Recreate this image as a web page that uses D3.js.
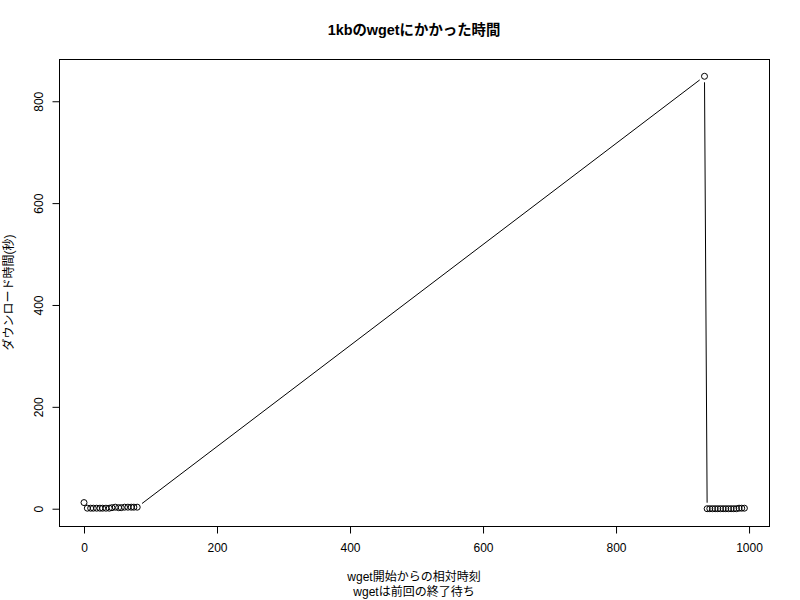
<!DOCTYPE html>
<html><head><meta charset="utf-8">
<script src="https://cdn.jsdelivr.net/npm/d3@7"></script>
<style>body{margin:0;background:#fff}text{font-family:"Liberation Sans","Noto Sans CJK JP",sans-serif}</style>
</head><body><svg id="c" width="800" height="600"></svg>
<script>
const startTimes = [0, 5, 10, 14, 19, 24, 28, 33, 38, 42, 47, 52, 56, 61, 66, 71, 75, 80,
  933,
  937, 941, 945, 949, 953, 957, 961, 965, 969, 973, 977, 981, 985, 989, 993];
const durations = [12, 1, 1, 1, 1, 1, 1, 1, 1, 2, 3, 2, 2, 3, 3, 3, 3, 3,
  849,
  0, 0, 0, 0, 0, 0, 0, 0, 0, 0, 0, 0, 1, 1, 1];
const xTicks = [0, 200, 400, 600, 800, 1000];
const yTicks = [0, 200, 400, 600, 800];
const title = "1kbのwgetにかかった時間";
const xLabel1 = "wget開始からの相対時刻";
const xLabel2 = "wgetは前回の終了待ち";
const yLabel = "ダウンロード時間(秒)";

const L = 59, R = 769, T = 59, B = 526;
const svg = d3.select("#c");
const x = d3.scaleLinear().domain([-37.6, 1030]).range([L, R]);
const yMin = 0, yMax = 849, yr = yMax - yMin;
const y = d3.scaleLinear().domain([yMin - 0.04 * yr, yMax + 0.04 * yr]).range([B, T]);

const data = startTimes.map((t, i) => ({x: t, y: durations[i]}));

// box
svg.append("rect").attr("x", L + 0.5).attr("y", T + 0.5).attr("width", R - L).attr("height", B - T)
  .attr("fill", "none").attr("stroke", "#000");

// x axis
const xa = svg.append("g").attr("transform", `translate(0.5,${B + 0.5})`);
xa.append("line").attr("x1", x(0)).attr("x2", x(1000)).attr("stroke", "#000");
xa.selectAll("line.t").data(xTicks).join("line").attr("class", "t")
  .attr("x1", d => x(d)).attr("x2", d => x(d)).attr("y1", 0).attr("y2", 7).attr("stroke", "#000");
xa.selectAll("text").data(xTicks).join("text").attr("x", d => x(d)).attr("y", 25)
  .attr("text-anchor", "middle").attr("font-size", 12).text(d => d);

// y axis
const ya = svg.append("g").attr("transform", `translate(${L + 0.5},0.5)`);
ya.append("line").attr("y1", y(0)).attr("y2", y(800)).attr("stroke", "#000");
ya.selectAll("line.t").data(yTicks).join("line").attr("class", "t")
  .attr("y1", d => y(d)).attr("y2", d => y(d)).attr("x1", 0).attr("x2", -7).attr("stroke", "#000");
ya.selectAll("text").data(yTicks).join("text")
  .attr("transform", d => `translate(-17,${y(d)}) rotate(-90)`)
  .attr("text-anchor", "middle").attr("font-size", 12).text(d => d);

// lines with gaps (type "b")
const gap = 6;
const lg = svg.append("g").attr("stroke", "#000").attr("stroke-width", 1);
for (let i = 0; i < data.length - 1; i++) {
  const x1 = x(data[i].x), y1 = y(data[i].y), x2 = x(data[i + 1].x), y2 = y(data[i + 1].y);
  const d = Math.hypot(x2 - x1, y2 - y1);
  if (d > 2 * gap) {
    const ux = (x2 - x1) / d, uy = (y2 - y1) / d;
    lg.append("line").attr("x1", x1 + ux * gap).attr("y1", y1 + uy * gap)
      .attr("x2", x2 - ux * gap).attr("y2", y2 - uy * gap);
  }
}
// points
svg.append("g").selectAll("circle").data(data).join("circle")
  .attr("cx", d => x(d.x)).attr("cy", d => y(d.y)).attr("r", 3)
  .attr("fill", "none").attr("stroke", "#000").attr("stroke-width", 1);

// titles
svg.append("text").attr("x", (L + R) / 2).attr("y", 35).attr("text-anchor", "middle")
  .attr("font-size", 14.4).attr("font-weight", "bold").text(title);
svg.append("text").attr("x", (L + R) / 2).attr("y", 581).attr("text-anchor", "middle")
  .attr("font-size", 12).text(xLabel1);
svg.append("text").attr("x", (L + R) / 2).attr("y", 596).attr("text-anchor", "middle")
  .attr("font-size", 12).text(xLabel2);
svg.append("text").attr("transform", `translate(13,${(T + B) / 2}) rotate(-90)`)
  .attr("text-anchor", "middle").attr("font-size", 12).text(yLabel);
</script></body></html>
